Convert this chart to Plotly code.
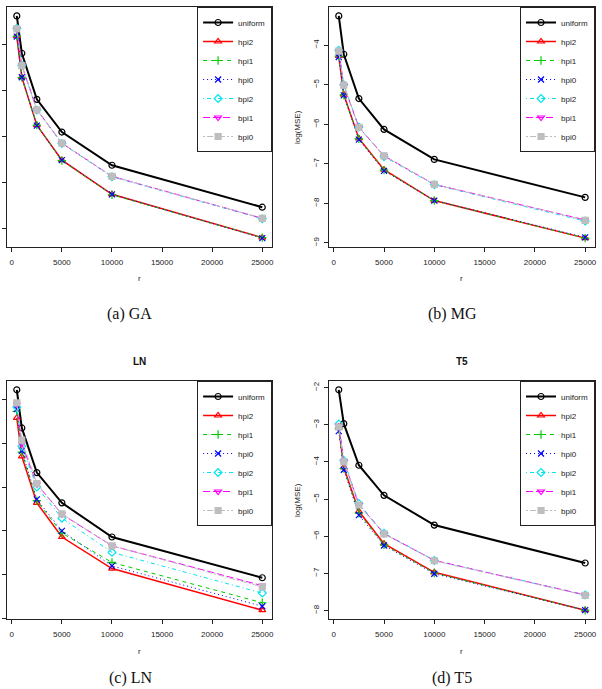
import plotly.graph_objects as go

# ---------------- data ----------------
r_values = [500, 1000, 2500, 5000, 10000, 25000]
x_ticks = [0, 5000, 10000, 15000, 20000, 25000]
x_tick_labels = ["0", "5000", "10000", "15000", "20000", "25000"]
series_names = ["uniform", "hpi2", "hpi1", "hpi0", "bpi2", "bpi1", "bpi0"]

# GA
ga_uniform = [-2.39, -3.20, -4.20, -4.91, -5.63, -6.54]
ga_hpi2 = [-2.83, -3.72, -4.76, -5.52, -6.26, -7.20]
ga_hpi1 = [-2.83, -3.73, -4.76, -5.53, -6.27, -7.20]
ga_hpi0 = [-2.84, -3.72, -4.77, -5.52, -6.26, -7.21]
ga_bpi2 = [-2.66, -3.46, -4.43, -5.16, -5.88, -6.79]
ga_bpi1 = [-2.67, -3.46, -4.42, -5.15, -5.87, -6.78]
ga_bpi0 = [-2.67, -3.47, -4.43, -5.15, -5.87, -6.78]

# MG
mg_uniform = [-3.26, -4.23, -5.35, -6.13, -6.89, -7.85]
mg_hpi2 = [-4.27, -5.25, -6.36, -7.15, -7.93, -8.88]
mg_hpi1 = [-4.28, -5.26, -6.37, -7.16, -7.93, -8.88]
mg_hpi0 = [-4.30, -5.27, -6.39, -7.18, -7.93, -8.86]
mg_bpi2 = [-4.13, -5.00, -6.07, -6.82, -7.53, -8.45]
mg_bpi1 = [-4.15, -5.02, -6.08, -6.80, -7.52, -8.42]
mg_bpi0 = [-4.15, -5.01, -6.08, -6.80, -7.52, -8.43]

# LN
ln_uniform = [-2.78, -3.65, -4.67, -5.36, -6.14, -7.07]
ln_hpi2 = [-3.42, -4.30, -5.36, -6.14, -6.86, -7.81]
ln_hpi1 = [-3.27, -4.20, -5.31, -6.05, -6.72, -7.64]
ln_hpi0 = [-3.22, -4.17, -5.28, -6.00, -6.80, -7.72]
ln_bpi2 = [-3.17, -4.07, -5.00, -5.71, -6.49, -7.42]
ln_bpi1 = [-3.11, -4.01, -4.93, -5.62, -6.34, -7.25]
ln_bpi0 = [-3.08, -3.93, -4.92, -5.61, -6.34, -7.28]

# T5
t5_uniform = [-2.06, -2.97, -4.09, -4.90, -5.70, -6.72]
t5_hpi2 = [-3.05, -4.15, -5.33, -6.20, -6.97, -7.99]
t5_hpi1 = [-3.12, -4.18, -5.38, -6.23, -6.99, -7.99]
t5_hpi0 = [-3.17, -4.21, -5.43, -6.25, -7.01, -7.99]
t5_bpi2 = [-2.98, -3.96, -5.12, -5.92, -6.65, -7.58]
t5_bpi1 = [-3.03, -3.98, -5.15, -5.93, -6.65, -7.58]
t5_bpi0 = [-3.06, -4.00, -5.16, -5.94, -6.66, -7.59]

panel_titles = ["GA", "MG", "LN", "T5"]
captions = ["(a) GA", "(b) MG", "(c) LN", "(d) T5"]
x_label = "r"
y_label = "log(MSE)"

panel_data = [
    [ga_uniform, ga_hpi2, ga_hpi1, ga_hpi0, ga_bpi2, ga_bpi1, ga_bpi0],
    [mg_uniform, mg_hpi2, mg_hpi1, mg_hpi0, mg_bpi2, mg_bpi1, mg_bpi0],
    [ln_uniform, ln_hpi2, ln_hpi1, ln_hpi0, ln_bpi2, ln_bpi1, ln_bpi0],
    [t5_uniform, t5_hpi2, t5_hpi1, t5_hpi0, t5_bpi2, t5_bpi1, t5_bpi0],
]

# ---------------- styles ----------------
W, H = 602, 689
styles = {
    "uniform": dict(color="#000000", dash="solid", symbol="circle-open", width=2.0),
    "hpi2": dict(color="#FF0000", dash="solid", symbol="triangle-up-open", width=1.5),
    "hpi1": dict(color="#00CD00", dash="4px,4px", symbol="cross-thin-open", width=1.0),
    "hpi0": dict(color="#0000FF", dash="1px,3px", symbol="x-thin-open", width=1.0),
    "bpi2": dict(color="#00E5EE", dash="1px,3px,4px,3px", symbol="diamond-open", width=1.0),
    "bpi1": dict(color="#FF00FF", dash="7px,3px", symbol="triangle-down-open", width=1.0),
    "bpi0": dict(color="#BEBEBE", dash="2px,2px,6px,2px", symbol="square", width=1.0),
}

# frame boxes in pixels: (left, right, top, bottom)
frames = [(7, 273, 7, 247), (330, 597, 7, 247), (7, 273, 381, 619), (330, 597, 381, 619)]
caption_pos = [(130, 314, "middle"), (454, 314, "middle"), (131, 689, "bottom"), (454, 689, "bottom")]
show_ylabels = [False, True, False, True]
show_titles = [False, False, True, True]


def px(p):
    return p / W


def py(p):
    return 1 - p / H


fig = go.Figure()
axis_color = "#222222"
tick_font = dict(family="Liberation Sans, Arial", size=8, color="#222222")
annotations = []

for i, (frame, series_list) in enumerate(zip(frames, panel_data)):
    k = i + 1
    xa = "x" if k == 1 else f"x{k}"
    ya = "y" if k == 1 else f"y{k}"
    lg = "legend" if k == 1 else f"legend{k}"
    for name, vals in zip(series_names, series_list):
        st = styles[name]
        fig.add_trace(go.Scatter(
            x=r_values, y=vals, name=name, mode="lines+markers",
            xaxis=xa, yaxis=ya, legend=lg,
            line=dict(color=st["color"], dash=st["dash"], width=st["width"]),
            marker=dict(symbol=st["symbol"], size=6, color=st["color"],
                        line=dict(color=st["color"], width=1.2)),
        ))
    # R-style ranges with 4% padding
    all_y = [v for s in series_list for v in s]
    ymin, ymax = min(all_y), max(all_y)
    ypad = 0.04 * (ymax - ymin)
    xmin, xmax = min(r_values), max(r_values)
    xpad = 0.04 * (xmax - xmin)
    left, right, top, bottom = frame
    xkey = "xaxis" if k == 1 else f"xaxis{k}"
    ykey = "yaxis" if k == 1 else f"yaxis{k}"
    fig.update_layout({
        xkey: dict(domain=[px(left), px(right)], anchor=ya, range=[xmin - xpad, xmax + xpad],
                   tickmode="array", tickvals=x_ticks, ticktext=x_tick_labels,
                   ticks="outside", ticklen=4, tickcolor=axis_color,
                   showline=True, mirror=True, linecolor=axis_color, linewidth=1.3,
                   showgrid=False, zeroline=False, tickfont=tick_font, ticklabelstandoff=3),
        ykey: dict(domain=[py(bottom), py(top)], anchor=xa, range=[ymin - ypad, ymax + ypad],
                   dtick=1, ticks="outside", ticklen=4, tickcolor=axis_color,
                   showline=True, mirror=True, linecolor=axis_color, linewidth=1.3,
                   showgrid=False, zeroline=False, tickfont=tick_font,
                   showticklabels=show_ylabels[i], tickangle=-90, ticklabelstandoff=2),
        lg: dict(x=px(right), y=py(top), xanchor="right", yanchor="top",
                 bgcolor="white", bordercolor=axis_color, borderwidth=1,
                 font=dict(family="Liberation Sans, Arial", size=8, color="#222222"),
                 itemwidth=30, tracegroupgap=0),
    })
    cx = (left + right) / 2
    cy = (top + bottom) / 2
    annotations.append(dict(text=x_label, x=px(cx), y=py(bottom + 32), xref="paper", yref="paper",
                            showarrow=False, font=tick_font, xanchor="center", yanchor="middle"))
    if show_ylabels[i]:
        annotations.append(dict(text=y_label, x=px(298), y=py(cy), xref="paper", yref="paper",
                                showarrow=False, font=tick_font, textangle=-90,
                                xanchor="center", yanchor="middle"))
    if show_titles[i]:
        annotations.append(dict(text=f"<b>{panel_titles[i]}</b>", x=px(cx), y=py(362),
                                xref="paper", yref="paper", showarrow=False,
                                font=dict(family="Liberation Sans, Arial", size=10, color="#111111"),
                                xanchor="center", yanchor="middle"))
    cpx, cpy, canchor = caption_pos[i]
    annotations.append(dict(text=captions[i], x=px(cpx), y=py(cpy), xref="paper", yref="paper",
                            showarrow=False,
                            font=dict(family="Liberation Serif, Times New Roman", size=16, color="#111111"),
                            xanchor="center", yanchor=canchor))

fig.update_layout(
    width=W, height=H, margin=dict(l=0, r=0, t=0, b=0),
    plot_bgcolor="white", paper_bgcolor="white",
    annotations=annotations, showlegend=True,
)

fig.write_html("out.html")
